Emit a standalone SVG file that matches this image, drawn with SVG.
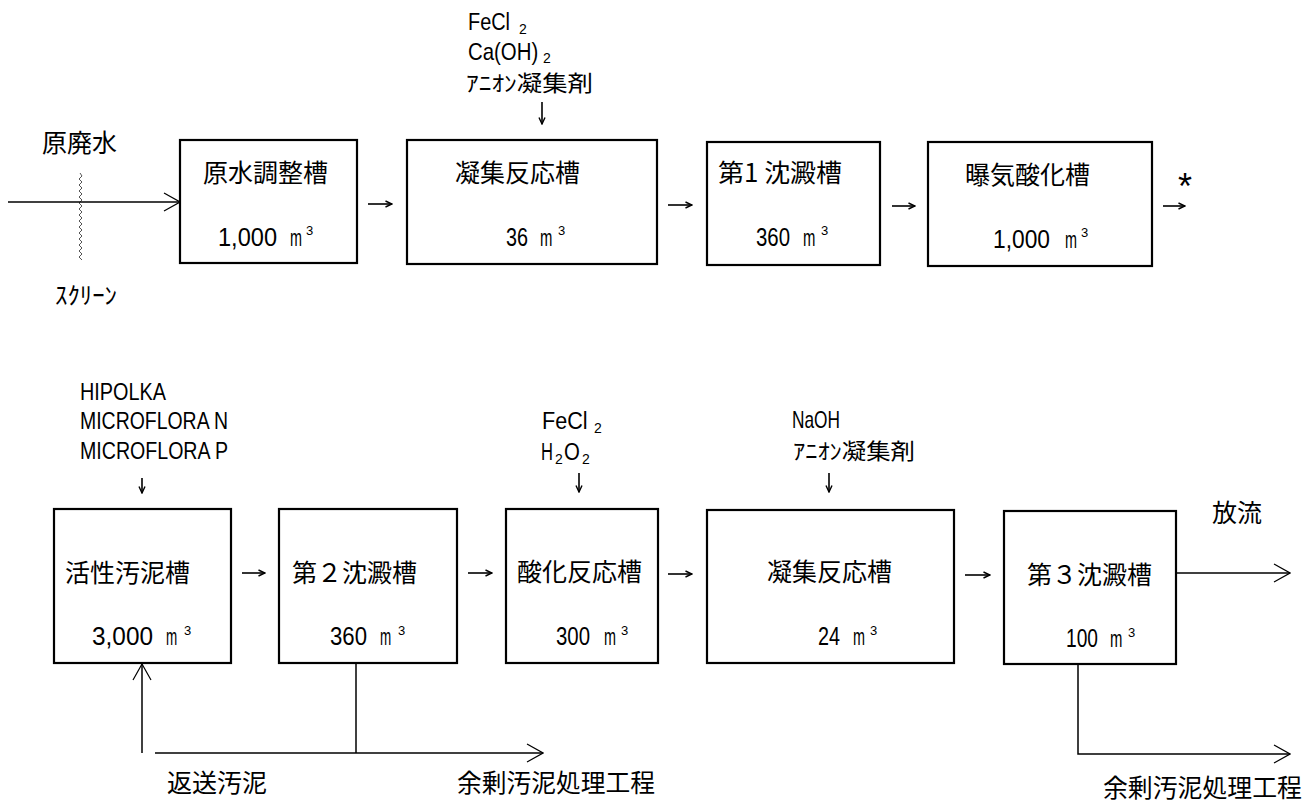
<svg xmlns="http://www.w3.org/2000/svg" width="1314" height="804" viewBox="0 0 1314 804">
<style>
.box{fill:#fff;stroke:#000;stroke-width:2.2}
.jp{font-family:"Noto Sans CJK JP","Noto Sans CJK SC",sans-serif;font-size:25px;fill:#000}
.hk{font-family:"Noto Sans CJK JP",sans-serif;font-size:24px;fill:#000}
.hk2{font-family:"Noto Sans CJK JP",sans-serif;font-size:22px;fill:#000}
.lat{font-family:"Liberation Sans",Arial,sans-serif;font-size:24px;fill:#000}
.num{font-family:"Liberation Sans",Arial,sans-serif;font-size:25px;fill:#000}
.m{font-family:"Liberation Sans",Arial,sans-serif;font-size:24px;fill:#000}
.sup{font-family:"Liberation Sans",Arial,sans-serif;font-size:13px;fill:#000}
.sub{font-family:"Liberation Sans",Arial,sans-serif;font-size:14px;fill:#000}
.ast{font-family:"Liberation Sans",Arial,sans-serif;font-size:36px;fill:#000}
.ln{fill:none;stroke:#000;stroke-width:1.5}
.sa{fill:none;stroke:#000;stroke-width:1.6}
.scr{fill:none;stroke:#555;stroke-width:1}
</style>
<defs>
<marker id="ah" viewBox="0 0 8 8" refX="7.5" refY="4" markerWidth="8" markerHeight="8" markerUnits="userSpaceOnUse" orient="auto">
<path d="M1,1 L7.5,4 L1,7" fill="none" stroke="#000" stroke-width="1.4"/>
</marker>
<marker id="oh" viewBox="0 0 18 20" refX="17" refY="10" markerWidth="18" markerHeight="20" markerUnits="userSpaceOnUse" orient="auto">
<path d="M1,1 L17,10 L1,19" fill="none" stroke="#000" stroke-width="1.2"/>
</marker>
</defs>

<!-- inputs / labels outside nodes -->
<g id="raw-water">
<text class="jp" x="42" y="152">原廃水</text>
<path class="scr" d="M80,173 l2,3 l-3,3 l3,3 l-3,3 l3,3 l-3,3 l3,3 l-3,3 l3,3 l-3,3 l3,3 l-3,3 l3,3 l-3,3 l3,3 l-3,3 l3,3 l-3,3 l3,3 l-3,3 l3,3 l-3,3 l3,3 l-3,3 l3,3 l-3,3 l3,3 l-3,3 l3,3"/>
<text class="hk" x="55" y="304" textLength="62" lengthAdjust="spacingAndGlyphs">ｽｸﾘｰﾝ</text>
</g>

<g id="chem1">
<text class="lat" transform="translate(468,30) scale(0.83,1)">FeCl</text>
<text class="sub" x="519" y="34">2</text>
<text class="lat" transform="translate(468,60) scale(0.85,1)">Ca(OH)</text>
<text class="sub" x="543" y="63">2</text>
<text class="hk2" x="466" y="91" textLength="127" lengthAdjust="spacingAndGlyphs">ｱﾆｵﾝ凝集剤</text>
</g>

<g id="chem2">
<text class="lat" x="80" y="400" textLength="86" lengthAdjust="spacingAndGlyphs">HIPOLKA</text>
<text class="lat" x="80" y="429" textLength="148" lengthAdjust="spacingAndGlyphs">MICROFLORA N</text>
<text class="lat" x="80" y="459" textLength="148" lengthAdjust="spacingAndGlyphs">MICROFLORA P</text>
</g>

<g id="chem3">
<text class="lat" transform="translate(542,429) scale(0.9,1)">FeCl</text>
<text class="sub" x="594" y="433">2</text>
<text class="lat" transform="translate(541,460) scale(0.69,1)">H</text>
<text class="sub" x="555" y="464">2</text>
<text class="lat" transform="translate(564,460) scale(0.85,1)">O</text>
<text class="sub" x="582" y="464">2</text>
</g>

<g id="chem4">
<text class="lat" x="792" y="428" textLength="48" lengthAdjust="spacingAndGlyphs">NaOH</text>
<text class="hk2" x="793" y="459" textLength="122" lengthAdjust="spacingAndGlyphs">ｱﾆｵﾝ凝集剤</text>
</g>

<!-- top row nodes -->
<g id="n1">
<rect class="box" x="180" y="140" width="177" height="123"/>
<text class="jp" x="203" y="182">原水調整槽</text>
<text class="num" x="218" y="246" textLength="59" lengthAdjust="spacingAndGlyphs">1,000</text>
<text class="m" transform="translate(290,246) scale(0.6,1)">m</text>
<text class="sup" x="306" y="235">3</text>
</g>
<g id="n2">
<rect class="box" x="407" y="140" width="250" height="124"/>
<text class="jp" x="455" y="182">凝集反応槽</text>
<text class="num" x="506" y="246" textLength="22" lengthAdjust="spacingAndGlyphs">36</text>
<text class="m" transform="translate(540,246) scale(0.62,1)">m</text>
<text class="sup" x="558" y="235">3</text>
</g>
<g id="n3">
<rect class="box" x="707" y="142" width="173" height="123"/>
<text class="jp" x="718" y="182" textLength="124" lengthAdjust="spacingAndGlyphs">第1 沈澱槽</text>
<text class="num" x="756" y="246" textLength="34" lengthAdjust="spacingAndGlyphs">360</text>
<text class="m" transform="translate(803,246) scale(0.62,1)">m</text>
<text class="sup" x="821" y="235">3</text>
</g>
<g id="n4">
<rect class="box" x="928" y="142" width="224" height="124"/>
<text class="jp" x="965" y="184">曝気酸化槽</text>
<text class="num" x="993" y="248" textLength="57" lengthAdjust="spacingAndGlyphs">1,000</text>
<text class="m" transform="translate(1065,248) scale(0.6,1)">m</text>
<text class="sup" x="1081" y="237">3</text>
</g>
<g id="cont-mark">
<text class="ast" x="1178" y="199">*</text>
</g>

<!-- bottom row nodes -->
<g id="n5">
<rect class="box" x="54" y="509" width="177" height="154"/>
<text class="jp" x="65" y="582">活性汚泥槽</text>
<text class="num" x="92" y="645" textLength="61" lengthAdjust="spacingAndGlyphs">3,000</text>
<text class="m" transform="translate(166,645) scale(0.56,1)">m</text>
<text class="sup" x="184" y="635">3</text>
</g>
<g id="n6">
<rect class="box" x="279" y="509" width="178" height="154"/>
<text class="jp" x="292" y="582">第２沈澱槽</text>
<text class="num" x="330" y="645" textLength="37" lengthAdjust="spacingAndGlyphs">360</text>
<text class="m" transform="translate(380,645) scale(0.56,1)">m</text>
<text class="sup" x="398" y="635">3</text>
</g>
<g id="n7">
<rect class="box" x="506" y="509" width="152" height="154"/>
<text class="jp" x="517" y="581">酸化反応槽</text>
<text class="num" x="556" y="645" textLength="34" lengthAdjust="spacingAndGlyphs">300</text>
<text class="m" transform="translate(604,645) scale(0.6,1)">m</text>
<text class="sup" x="621" y="635">3</text>
</g>
<g id="n8">
<rect class="box" x="707" y="510" width="247" height="153"/>
<text class="jp" x="767" y="581">凝集反応槽</text>
<text class="num" x="818" y="645" textLength="22" lengthAdjust="spacingAndGlyphs">24</text>
<text class="m" transform="translate(853,645) scale(0.6,1)">m</text>
<text class="sup" x="870" y="635">3</text>
</g>
<g id="n9">
<rect class="box" x="1004" y="511" width="172" height="153"/>
<text class="jp" x="1027" y="584">第３沈澱槽</text>
<text class="num" x="1066" y="647" textLength="32" lengthAdjust="spacingAndGlyphs">100</text>
<text class="m" transform="translate(1110,647) scale(0.62,1)">m</text>
<text class="sup" x="1128" y="637">3</text>
</g>

<g id="out-labels">
<text class="jp" x="1212" y="522">放流</text>
<text class="jp" x="167" y="792">返送汚泥</text>
<text class="jp" x="457" y="792" textLength="198" lengthAdjust="spacingAndGlyphs">余剰汚泥処理工程</text>
<text class="jp" x="1103" y="797" textLength="199" lengthAdjust="spacingAndGlyphs">余剰汚泥処理工程</text>
</g>

<!-- connectors -->
<g id="connectors">
<path class="ln" d="M8,202 H180" marker-end="url(#oh)"/>
<path class="sa" d="M368,204 H392" marker-end="url(#ah)"/>
<path class="sa" d="M668,205 H692" marker-end="url(#ah)"/>
<path class="sa" d="M892,206 H915" marker-end="url(#ah)"/>
<path class="sa" d="M1163,206 H1185" marker-end="url(#ah)"/>
<path class="sa" d="M542,102 V124" marker-end="url(#ah)"/>

<path class="sa" d="M142,478 V493" marker-end="url(#ah)"/>
<path class="sa" d="M579,473 V492" marker-end="url(#ah)"/>
<path class="sa" d="M829,473 V492" marker-end="url(#ah)"/>

<path class="sa" d="M242,573 H265" marker-end="url(#ah)"/>
<path class="sa" d="M468,573 H492" marker-end="url(#ah)"/>
<path class="sa" d="M668,574 H692" marker-end="url(#ah)"/>
<path class="sa" d="M965,575 H990" marker-end="url(#ah)"/>

<path class="ln" d="M1176,573 H1290" marker-end="url(#oh)"/>
<path class="ln" d="M142,753 V664" marker-end="url(#oh)"/>
<path class="ln" d="M356,663 V753"/>
<path class="ln" d="M155,753 H543" marker-end="url(#oh)"/>
<path class="ln" d="M1078,664 V754 H1290" marker-end="url(#oh)"/>
</g>
</svg>
